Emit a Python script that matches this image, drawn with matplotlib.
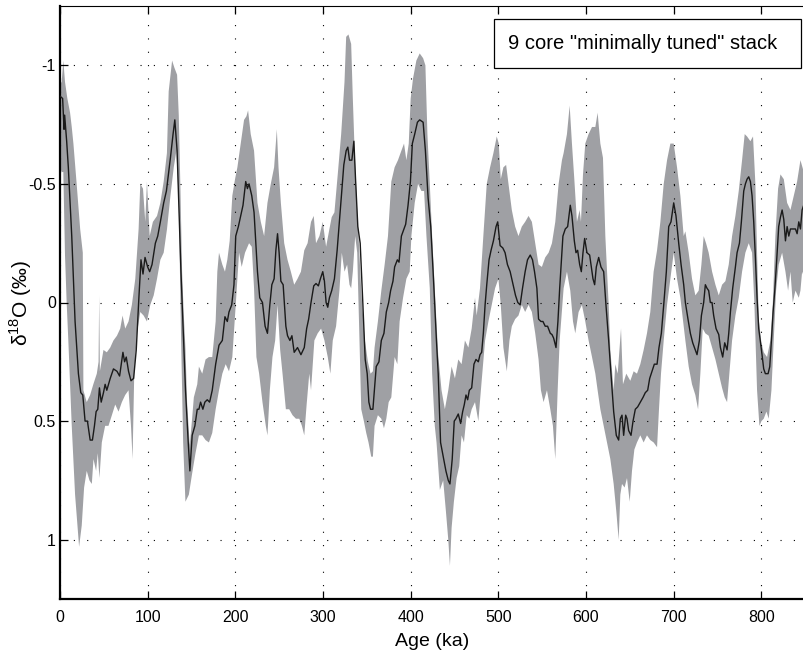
import matplotlib
matplotlib.use("Agg")
import matplotlib.pyplot as plt
from matplotlib.patches import Rectangle
import numpy as np

plt.rcParams['font.family'] = ['Liberation Sans', 'DejaVu Sans']
plt.rcParams['mathtext.fontset'] = 'custom'
plt.rcParams['mathtext.rm'] = 'Liberation Sans'

# ---- data (age in ka, d18O anomaly in permil) ----
mean_pts = [(0,-0.87),(3,-0.86),(4.6,-0.73),(5.3,-0.79),(7.6,-0.68),(9.5,-0.57),(13.4,-0.28),(17.2,0.08),(21,0.30),(23.7,0.38),(26,0.39),(28.6,0.50),(31.3,0.50),(34.4,0.58),(37,0.58),(39.3,0.52),(41.2,0.46),(43.1,0.45),(45,0.36),(47,0.42),(49.6,0.38),(51.5,0.345),(53.4,0.37),(57.3,0.32),(61,0.28),(65,0.29),(68,0.31),(71.8,0.21),(73.7,0.25),(75.6,0.23),(78.2,0.29),(81,0.33),(84,0.32),(87,0.20),(90,-0.02),(92.4,-0.18),(94.7,-0.12),(97,-0.19),(100,-0.15),(102.3,-0.13),(105,-0.16),(108.8,-0.25),(111.5,-0.28),(114.5,-0.34),(118.3,-0.42),(121.4,-0.47),(124,-0.55),(126,-0.61),(129,-0.71),(131,-0.77),(133.6,-0.64),(135.5,-0.42),(138,-0.13),(141,0.16),(143.2,0.37),(146.3,0.59),(148.2,0.71),(150.8,0.56),(153.9,0.52),(156.6,0.45),(158.5,0.45),(160.4,0.42),(163,0.45),(165.3,0.42),(168,0.41),(170.7,0.42),(173.7,0.37),(177.6,0.26),(181.4,0.18),(185.2,0.16),(188.2,0.06),(190.9,0.08),(192.8,0.04),(195.9,0.01),(198.5,-0.075),(200.5,-0.28),(203.5,-0.32),(206.2,-0.365),(208.8,-0.41),(211.9,-0.51),(213.8,-0.48),(215.7,-0.50),(218.8,-0.45),(221.4,-0.38),(225.3,-0.13),(227.9,-0.02),(231,0.0),(234,0.1),(236.7,0.13),(239.4,0.01),(241.7,-0.075),(244.3,-0.10),(246.3,-0.22),(248.2,-0.29),(250,-0.21),(252,-0.09),(254.6,-0.075),(257.7,0.10),(259.6,0.14),(262.3,0.16),(264.6,0.14),(267.2,0.21),(271,0.19),(274.9,0.22),(278.7,0.19),(281.4,0.11),(283.7,0.07),(286.4,0.0),(289.5,-0.07),(292.1,-0.08),(294.8,-0.07),(297.1,-0.10),(299.8,-0.13),(301.7,-0.09),(303.6,0.0),(305.5,0.02),(307.4,-0.02),(310,-0.05),(313.1,-0.10),(316.2,-0.22),(318.8,-0.34),(321.5,-0.47),(323.8,-0.58),(326.5,-0.64),(328.4,-0.655),(330.3,-0.60),(333,-0.60),(335.3,-0.68),(337.2,-0.52),(339.8,-0.32),(342.5,-0.25),(345.6,0.01),(348.2,0.24),(350.5,0.30),(352.4,0.42),(354.3,0.45),(357,0.45),(358.9,0.36),(360.8,0.27),(363.9,0.25),(366.6,0.16),(369.6,0.13),(372.3,0.04),(375,0.0),(377.2,-0.05),(379.9,-0.09),(381.8,-0.15),(384.9,-0.18),(386.8,-0.17),(389.5,-0.28),(392.5,-0.31),(394.4,-0.33),(397.1,-0.41),(399.8,-0.51),(402,-0.67),(404.7,-0.71),(407.8,-0.76),(410.4,-0.77),(414.3,-0.76),(416.9,-0.64),(420,-0.44),(423,-0.32),(425.7,-0.13),(429.5,0.16),(431.5,0.30),(434.2,0.59),(437.2,0.65),(440.3,0.71),(443,0.75),(444.9,0.765),(447.5,0.66),(449.8,0.50),(451.7,0.49),(454.4,0.47),(457.1,0.51),(459.4,0.46),(461.3,0.43),(463.2,0.39),(465.1,0.41),(467,0.37),(469.7,0.36),(472.3,0.26),(474.6,0.24),(477.3,0.25),(479.2,0.22),(481.1,0.21),(483,0.13),(485,0.01),(486.9,-0.075),(489.5,-0.18),(491.8,-0.22),(494.5,-0.26),(497.5,-0.32),(499.4,-0.34),(502.1,-0.24),(505.2,-0.23),(507.8,-0.21),(510.5,-0.16),(513.6,-0.13),(516.6,-0.08),(519.7,-0.03),(522.3,0.0),(525,0.01),(527.7,-0.06),(530.7,-0.13),(533.4,-0.18),(536.5,-0.20),(539.1,-0.18),(541.4,-0.13),(544.1,-0.06),(546,0.07),(548.7,0.08),(551,0.08),(553.6,0.10),(556.3,0.10),(559.4,0.13),(561.3,0.135),(563.2,0.15),(565.9,0.19),(568.1,0.08),(570.1,-0.06),(573.8,-0.28),(576.5,-0.31),(579.2,-0.32),(582.2,-0.41),(584.1,-0.365),(586.8,-0.26),(588.7,-0.21),(590.6,-0.22),(592.9,-0.16),(594.8,-0.13),(596.7,-0.21),(598.6,-0.27),(601.2,-0.21),(604.3,-0.20),(606.2,-0.15),(608.1,-0.10),(610,-0.075),(611.9,-0.15),(614.6,-0.19),(617.2,-0.15),(620.3,-0.13),(622.9,0.01),(626,0.16),(628.6,0.30),(631.7,0.46),(634.7,0.56),(637.4,0.58),(639.3,0.49),(641.2,0.475),(643.1,0.56),(645.4,0.475),(646.9,0.49),(648.8,0.54),(651.5,0.56),(653.8,0.50),(656.4,0.45),(659.1,0.44),(662.1,0.42),(665.2,0.40),(667.8,0.38),(670.5,0.37),(672.8,0.32),(675.4,0.29),(678.1,0.26),(681.2,0.26),(683.4,0.19),(686.1,0.13),(688.8,0.01),(691.8,-0.13),(694.5,-0.32),(697.1,-0.34),(700.2,-0.42),(702.8,-0.365),(705.9,-0.25),(708.6,-0.16),(711.6,-0.075),(713.5,0.0),(716.5,0.07),(719.2,0.13),(721.9,0.17),(724.9,0.20),(726.8,0.22),(729.5,0.16),(731.8,0.055),(734.4,0.0),(736.3,-0.075),(738.2,-0.06),(740.1,-0.05),(742,0.0),(743.9,0.0),(745.8,0.055),(748.5,0.11),(751.6,0.135),(753.5,0.19),(756.1,0.23),(758.4,0.17),(761.1,0.20),(763,0.13),(764.9,0.04),(767.5,-0.06),(770.6,-0.15),(772.5,-0.21),(775.2,-0.25),(777.4,-0.34),(780.1,-0.47),(782,-0.50),(783.9,-0.52),(785.8,-0.53),(787.7,-0.51),(789.6,-0.45),(791.5,-0.34),(793.4,-0.19),(795.3,-0.02),(797.2,0.11),(800.3,0.20),(802.9,0.28),(804.8,0.30),(807.9,0.30),(809.8,0.27),(811.7,0.16),(813.6,0.04),(815.5,-0.05),(817.4,-0.16),(820,-0.32),(822,-0.36),(823.9,-0.39),(825.8,-0.35),(827.7,-0.26),(829.6,-0.32),(831.5,-0.28),(833.4,-0.31),(836,-0.31),(839.1,-0.31),(841,-0.29),(842.9,-0.34),(844.8,-0.31),(846.7,-0.39),(849.4,-0.42)]

# lower-value edge of the uncertainty band (top in the inverted plot)
band_lo_pts = [(0,-0.92),(1.9,-0.93),(3.8,-1.02),(5.7,-0.93),(8.4,-0.86),(11.5,-0.80),(13.4,-0.74),(15.3,-0.67),(19,-0.50),(23,-0.31),(26,-0.21),(26.7,0.37),(30.5,0.42),(34.4,0.39),(38,0.345),(42,0.30),(44,0.25),(44.7,-0.03),(45.5,0.29),(49.6,0.20),(53.4,0.21),(57.3,0.19),(61,0.16),(65,0.14),(68.7,0.11),(71.4,0.055),(74.4,0.11),(78.2,0.08),(82,0.01),(85.9,-0.10),(89.7,-0.31),(91.6,-0.50),(94.7,-0.48),(97.3,-0.34),(99.2,-0.51),(102.3,-0.28),(106,-0.34),(110.7,-0.365),(114.5,-0.42),(118.3,-0.51),(122,-0.63),(124,-0.89),(127.9,-1.02),(130.5,-0.99),(133.6,-0.96),(135.5,-0.79),(137.4,-0.48),(139.3,-0.13),(141.2,0.05),(143.2,0.2),(145,0.42),(148,0.6),(150.5,0.5),(152.7,0.40),(156.6,0.345),(158.5,0.27),(162.3,0.30),(166.1,0.24),(169.9,0.23),(173.7,0.23),(177.6,0.08),(179.5,-0.13),(181.4,-0.21),(185.2,-0.16),(188.2,-0.13),(190.9,-0.18),(193.6,-0.26),(196.6,-0.45),(199.7,-0.52),(202.4,-0.57),(206.2,-0.67),(210,-0.77),(212.7,-0.785),(214.6,-0.81),(217.6,-0.71),(221.4,-0.64),(225.3,-0.42),(229.1,-0.34),(232.9,-0.28),(236.7,-0.42),(240.5,-0.50),(244.3,-0.57),(247.4,-0.73),(249.3,-0.57),(252,-0.42),(255.8,-0.25),(259.6,-0.18),(263.4,-0.13),(267.2,-0.075),(271,-0.10),(274.9,-0.13),(278.7,-0.22),(282.5,-0.25),(286.4,-0.34),(289.5,-0.365),(292.1,-0.25),(296,-0.28),(299.8,-0.34),(303.6,-0.235),(307.4,-0.31),(310,-0.36),(313.1,-0.38),(316.9,-0.54),(320.8,-0.71),(324.6,-0.93),(326.5,-1.12),(329.1,-1.13),(332.2,-1.09),(334.1,-0.86),(336,-0.655),(338.7,-0.42),(341.7,-0.2),(343.7,-0.05),(345.6,0.05),(347.5,0.15),(351.3,0.25),(354.3,0.30),(357,0.29),(358.9,0.19),(362.7,0.08),(366.6,-0.05),(370.4,-0.16),(374.2,-0.28),(378,-0.51),(381.8,-0.57),(385.6,-0.60),(389.5,-0.64),(392.5,-0.67),(395.2,-0.60),(397.9,-0.67),(400.1,-0.86),(402.8,-0.945),(406.6,-1.02),(410.4,-1.05),(414.3,-1.03),(416.9,-1.0),(419.2,-0.71),(421.9,-0.50),(424.6,-0.28),(427.6,-0.06),(429.5,0.08),(431.5,0.22),(435.3,0.37),(439.1,0.45),(443,0.37),(446.8,0.27),(450.6,0.32),(454.4,0.24),(458.2,0.26),(462,0.16),(465.9,0.19),(469.7,0.11),(473.5,-0.02),(475.4,0.055),(479.2,-0.06),(483,-0.28),(486.9,-0.50),(490.7,-0.57),(494.5,-0.63),(498.3,-0.70),(500.6,-0.67),(502.9,-0.52),(505.9,-0.57),(509,-0.58),(511.7,-0.50),(515.5,-0.39),(519.3,-0.32),(523.1,-0.28),(526.9,-0.32),(530.7,-0.34),(534.6,-0.365),(538.4,-0.34),(542.2,-0.25),(546,-0.16),(549.8,-0.15),(553.6,-0.19),(557.5,-0.21),(561.3,-0.25),(565.1,-0.34),(568.9,-0.50),(572.7,-0.60),(574.6,-0.63),(578.4,-0.71),(581.5,-0.83),(584.1,-0.67),(586.8,-0.52),(589.8,-0.34),(592.9,-0.39),(594.4,-0.34),(596.7,-0.54),(599.3,-0.67),(603.1,-0.71),(607,-0.74),(610.8,-0.74),(613.4,-0.80),(616.5,-0.67),(619.5,-0.61),(622.2,-0.28),(626,0.01),(627.9,0.2),(631.7,0.37),(633.6,0.26),(636.3,0.30),(640.1,0.11),(642.3,0.345),(646.1,0.30),(650.7,0.33),(654.5,0.29),(658.3,0.30),(662.1,0.26),(665.9,0.20),(669.7,0.13),(673.5,0.04),(677.3,-0.13),(681.2,-0.22),(685,-0.34),(688.8,-0.50),(692.6,-0.60),(696.4,-0.67),(700.2,-0.67),(704,-0.57),(707.8,-0.45),(711.6,-0.28),(713.5,-0.3),(717.3,-0.21),(721.1,-0.10),(724.9,-0.03),(728.7,-0.05),(731.8,-0.16),(734.4,-0.28),(737.1,-0.25),(740.1,-0.21),(744,-0.13),(747.8,-0.075),(751.6,-0.03),(755.4,-0.075),(759.2,-0.09),(763,-0.16),(766.8,-0.28),(770.6,-0.365),(774.4,-0.47),(778.2,-0.60),(781.2,-0.71),(783.9,-0.70),(787.7,-0.68),(790.7,-0.70),(793.4,-0.50),(795.3,-0.21),(797.2,0.07),(800.3,0.17),(802.9,0.21),(806.7,0.23),(810.5,0.16),(813.2,0.01),(816.2,-0.28),(819.3,-0.48),(822,-0.54),(825.8,-0.52),(829.6,-0.42),(833.4,-0.39),(837.2,-0.45),(841,-0.51),(844.8,-0.60),(849.4,-0.54)]

# higher-value edge of the uncertainty band (bottom in the inverted plot)
band_hi_pts = [(0,-0.57),(1.9,-0.55),(3.8,-0.55),(5.7,-0.2),(7.6,0.0),(9.5,0.16),(13.4,0.52),(17.2,0.81),(21.8,1.03),(24.8,0.94),(27.5,0.78),(30.5,0.71),(33.6,0.75),(36.3,0.765),(38.2,0.66),(41.2,0.71),(43.1,0.635),(45,0.74),(47.7,0.59),(51.5,0.52),(55.3,0.52),(59.2,0.475),(63,0.43),(66.8,0.46),(70.6,0.42),(74.4,0.39),(78.2,0.37),(81,0.52),(82.8,0.66),(84.7,0.30),(87.8,0.13),(91.6,0.04),(95.4,0.055),(99.2,0.08),(103,0.01),(106.9,-0.03),(110.7,-0.10),(114.5,-0.18),(118.3,-0.21),(122.1,-0.31),(126,-0.45),(129.8,-0.57),(132.8,-0.64),(135.5,-0.42),(138.2,0.16),(140.5,0.59),(143.1,0.84),(147,0.81),(150.8,0.72),(154.6,0.635),(158.5,0.56),(162.3,0.56),(166.1,0.58),(169.9,0.59),(173.7,0.55),(177.6,0.45),(181.4,0.37),(185.2,0.30),(189,0.26),(192.8,0.29),(196.6,0.23),(200.5,0.01),(204.3,-0.21),(207.3,-0.15),(211.1,-0.21),(215.7,-0.25),(218.8,-0.235),(221.4,-0.06),(224.1,0.23),(227.2,0.30),(231,0.42),(234.8,0.52),(236.7,0.56),(239.4,0.37),(242.4,0.23),(245.5,0.16),(248.2,0.01),(251.2,0.20),(253.9,0.30),(257.7,0.45),(261.5,0.45),(265.3,0.475),(269.2,0.49),(273,0.49),(276,0.52),(278.7,0.56),(281.4,0.43),(284.4,0.30),(286.4,0.37),(290.2,0.16),(294,0.13),(297.9,0.11),(301.7,0.16),(305.5,0.23),(308.5,0.30),(311.2,0.16),(315,0.10),(318.8,-0.05),(321.5,-0.21),(324.6,-0.13),(327.6,-0.16),(330.3,-0.075),(332.2,-0.06),(334.1,-0.13),(336.8,-0.28),(339.1,-0.21),(341.7,0.16),(343.7,0.45),(346.7,0.50),(349.4,0.55),(352,0.59),(355.1,0.65),(357,0.65),(358.9,0.52),(362.7,0.475),(366.6,0.49),(369.6,0.53),(372.3,0.49),(375,0.42),(378,0.40),(381.8,0.23),(384.9,0.26),(387.5,0.08),(391.4,-0.02),(395.2,-0.10),(399,-0.13),(400.9,-0.28),(404.7,-0.42),(408.5,-0.50),(412.4,-0.47),(415.4,-0.47),(418.1,-0.28),(421.9,-0.06),(424.6,0.30),(427.6,0.52),(429.6,0.59),(433.4,0.79),(437.2,0.75),(440.3,0.88),(443,1.0),(444.9,1.11),(446.8,0.95),(449.4,0.84),(452.5,0.74),(455.5,0.69),(458.2,0.56),(460.9,0.59),(464,0.475),(467,0.49),(469.7,0.45),(473.5,0.42),(477.3,0.50),(481.1,0.33),(485,0.16),(488.8,0.08),(492.6,0.01),(496.4,-0.06),(500.2,-0.10),(502.9,0.01),(505.9,0.19),(509.8,0.29),(512.8,0.16),(515.5,0.10),(519.3,0.07),(523.1,0.055),(526.9,0.01),(530.7,0.04),(534.6,0.01),(538.4,0.04),(542.2,0.13),(546,0.24),(548.7,0.37),(551.7,0.42),(555.6,0.37),(559.4,0.45),(562.4,0.52),(565.1,0.66),(567.8,0.37),(570.1,0.16),(574.6,-0.06),(578.4,-0.13),(582.2,-0.05),(585.3,0.08),(587.9,0.13),(591.7,0.04),(595.5,0.01),(599.3,0.08),(603.1,0.16),(607,0.23),(610.8,0.30),(613.4,0.37),(616.5,0.45),(620.3,0.52),(624.1,0.59),(627.9,0.66),(631.7,0.765),(634.7,0.88),(637.4,1.0),(639.3,0.81),(641.2,0.765),(644.2,0.78),(646.9,0.74),(650,0.84),(652.6,0.71),(655.3,0.62),(658.3,0.59),(662.1,0.56),(665.9,0.59),(669.7,0.56),(673.5,0.58),(677.3,0.59),(681.2,0.61),(683.4,0.45),(685.7,0.30),(688.8,0.16),(692.6,0.01),(696.4,-0.10),(700.2,-0.21),(704,-0.10),(707.8,-0.02),(711.6,0.10),(713.5,0.16),(717.3,0.27),(721.1,0.345),(724.9,0.39),(728,0.45),(730.6,0.30),(733.3,0.11),(736.3,0.13),(740.1,0.14),(744,0.19),(747.8,0.24),(751.6,0.30),(755.4,0.36),(758.4,0.40),(761.1,0.42),(763.7,0.30),(766.8,0.16),(770.6,0.055),(774.4,-0.02),(778.2,-0.13),(782,-0.21),(785.8,-0.25),(789.6,-0.21),(792.3,0.01),(795.3,0.37),(798,0.52),(800.3,0.50),(802.9,0.49),(806,0.46),(808.6,0.49),(811.7,0.37),(814.3,0.16),(817,-0.05),(820,-0.16),(823.9,-0.21),(827.7,-0.13),(830.7,-0.05),(833.4,-0.13),(836,0.0),(839.1,-0.05),(842.9,-0.02),(844.8,-0.05),(846.7,-0.13),(849.4,-0.10)]

x_ticks = [0, 100, 200, 300, 400, 500, 600, 700, 800]
y_ticks = [-1, -0.5, 0, 0.5, 1]
y_ticklabels = ["-1", "-0.5", "0", "0.5", "1"]
legend_text = '9 core "minimally tuned" stack'
x_label = "Age (ka)"
y_label = "δ$^{\\mathregular{18}}$O (‰)"

# ---- figure ----
fig = plt.figure(figsize=(8.04, 6.58), dpi=100)
ax = fig.add_axes([60/804, 1-599/658, 745/804, 593/658])

m_age, m_val = zip(*mean_pts)
lo_age, lo_val = zip(*band_lo_pts)
hi_age, hi_val = zip(*band_hi_pts)

poly_x = list(lo_age) + list(hi_age)[::-1]
poly_y = list(lo_val) + list(hi_val)[::-1]
ax.fill(poly_x, poly_y, color='#9fa0a4', lw=0, zorder=1)
ax.plot(m_age, m_val, color='#1a1a1a', lw=1.0, zorder=3)

ax.set_xlim(0, 850)
ax.set_ylim(1.25, -1.25)
ax.set_xticks(x_ticks)
ax.set_yticks(y_ticks)
ax.set_yticklabels(y_ticklabels)

ax.grid(True, color='black', linestyle=(0, (1, 11)), linewidth=0.8, zorder=2)
ax.set_axisbelow(False)

for s in ['left', 'bottom']:
    ax.spines[s].set_linewidth(1.6)
ax.spines['top'].set_linewidth(0.8)
ax.spines['right'].set_visible(False)

ax.tick_params(axis='both', direction='in', length=6, width=0.9, labelsize=11.5,
               top=True, right=False, colors='black')
ax.tick_params(axis='x', pad=8)
ax.tick_params(axis='y', pad=3)

ax.set_xlabel(x_label, fontsize=14, labelpad=6)
ax.set_ylabel(y_label, fontsize=15)
ax.yaxis.set_label_coords(-26/745, 0.5)

# legend-style box
ax.add_patch(Rectangle((0.583, 0.895), 0.411, 0.083, transform=ax.transAxes,
                       facecolor='white', edgecolor='black', lw=0.9, zorder=5))
ax.text(0.602, 0.937, legend_text, transform=ax.transAxes, fontsize=14.5,
        ha='left', va='center', zorder=6)

fig.savefig('out.png', dpi=100)
